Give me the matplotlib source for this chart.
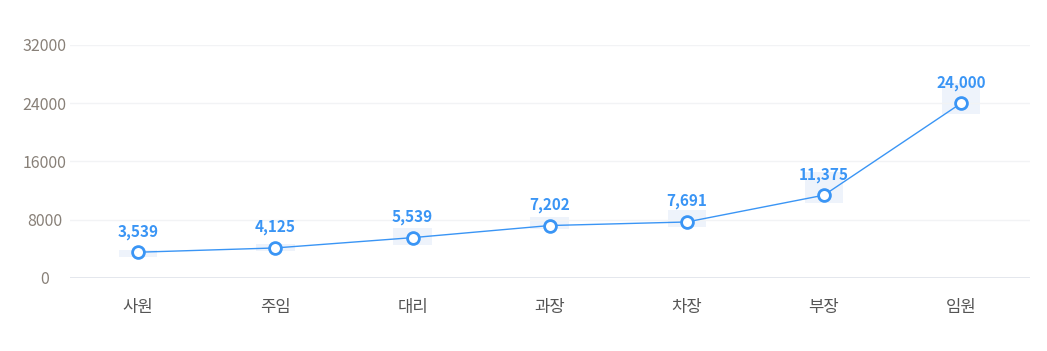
import matplotlib.pyplot as plt
import numpy as np

plt.rcParams['font.family'] = ['Noto Sans CJK KR', 'DejaVu Sans']

# Data
positions = ['사원', '주임', '대리', '과장', '차장', '부장', '임원']
salary = [3539, 4125, 5539, 7202, 7691, 11375, 24000]
# faint background range bars (low, high)
range_low = [2900, 3700, 4550, 6750, 7000, 10300, 22500]
range_high = [3850, 4650, 6850, 8350, 9350, 14500, 26800]
yticks = [0, 8000, 16000, 24000, 32000]

blue = '#3a95f5'
x = np.arange(len(positions))

fig = plt.figure(figsize=(10.47, 3.51), dpi=100)
ax = fig.add_axes([0.0665, 0.208, 0.917, 0.664])

# pale range bars behind the line
ax.bar(x, np.array(range_high) - np.array(range_low), bottom=range_low,
       width=0.28, color='#eef3fb', zorder=1)

ax.plot(x, salary, color=blue, lw=1, zorder=3)
ax.plot(x, salary, 'o', ms=8.5, mfc='white', mec=blue, mew=2, zorder=4)

for xi, v in zip(x, salary):
    ax.annotate(f'{v:,}', (xi, v), xytext=(0, 9), textcoords='offset points',
                ha='center', va='bottom', color=blue, fontsize=11,
                fontweight='bold', zorder=5)

ax.set_xlim(-0.5, len(positions) - 0.5)
ax.set_ylim(0, 32000)
ax.set_yticks(yticks)
ax.set_yticklabels([str(t) for t in yticks], ha='center')
ax.set_xticks(x)
ax.set_xticklabels(positions)

ax.grid(axis='y', color='#f2f3f5', lw=1, zorder=0)
ax.axhline(0, color='#e0e3ea', lw=1.2, zorder=2)
for s in ax.spines.values():
    s.set_visible(False)
ax.tick_params(axis='both', length=0)
ax.tick_params(axis='y', colors='#888078', labelsize=11.5, pad=18)
ax.tick_params(axis='x', colors='#555555', labelsize=12, pad=15)

fig.savefig('out.png', dpi=100, facecolor='white')
